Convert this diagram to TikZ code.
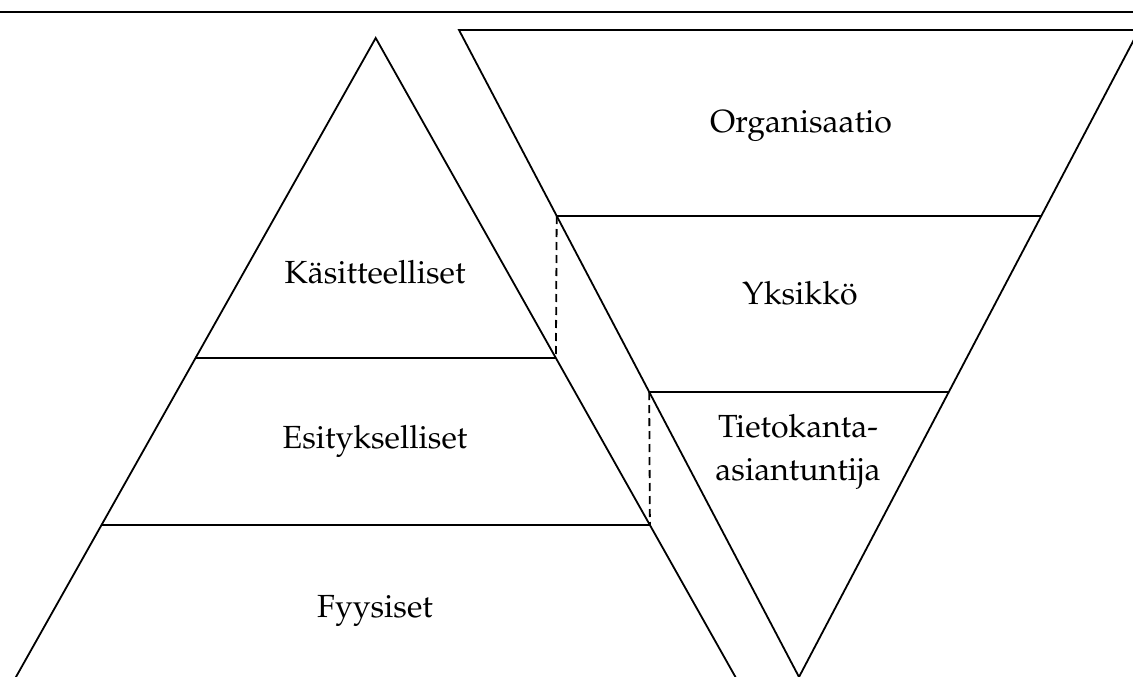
\documentclass[tikz,border=0pt]{standalone}
\usepackage[T1]{fontenc}
\usepackage{mathpazo}
\begin{document}
\begin{tikzpicture}[x=1pt,y=-1pt,
  edge/.style={line width=1.8pt,line join=miter},
  link/.style={line width=1.8pt,dash pattern=on 8pt off 5pt},
  label/.style={font=\fontsize{32}{43}\selectfont,inner sep=0pt,anchor=base}]
\useasboundingbox (0,0) rectangle (1133,677);
\clip (0,0) rectangle (1133,677);

% rule across the top
\draw[edge] (0,12) -- (1133,12);

% upright pyramid
\coordinate (pA) at (375.7,38);
\coordinate (pL1) at (195.5,358);
\coordinate (pR1) at (555.9,358);
\coordinate (pL2) at (101.5,525);
\coordinate (pR2) at (649.9,525);
\coordinate (pBL) at (3.0,700);
\coordinate (pBR) at (748.4,700);
\draw[edge] (pBL) -- (pA) -- (pBR);
\draw[edge] (pL1) -- (pR1);
\draw[edge] (pL2) -- (pR2);

% inverted pyramid
\coordinate (iTL) at (459,30);
\coordinate (iTR) at (1139,30);
\coordinate (iV) at (799,677);
\coordinate (iL1) at (556.7,216);
\coordinate (iR1) at (1041.3,216);
\coordinate (iL2) at (649.2,392);
\coordinate (iR2) at (948.8,392);
\draw[edge] (iV) -- (iTL) -- (iTR) -- cycle;
\draw[edge] (iL1) -- (iR1);
\draw[edge] (iL2) -- (iR2);

% dashed correspondences between the levels
\draw[link] (iL1) -- (pR1);
\draw[link] (iL2) -- (pR2);

% level names
\node[label] (kas) at (375,283) {Käsitteelliset};
\node[label] (esi) at (375,448) {Esitykselliset};
\node[label] (fyy) at (375,617) {Fyysiset};
\node[label] (org) at (801,132) {Organisaatio};
\node[label] (yks) at (800,304) {Yksikkö};
\node[label] (tie) at (798,437) {Tietokanta-};
\node[label] (asi) at (798,480) {asiantuntija};
\end{tikzpicture}
\end{document}
